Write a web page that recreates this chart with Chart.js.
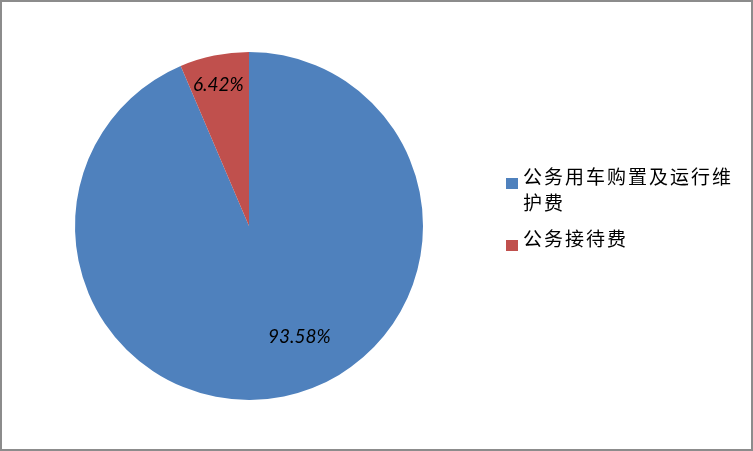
<!DOCTYPE html>
<html>
<head>
<meta charset="utf-8">
<script src="https://cdn.jsdelivr.net/npm/chart.js@4"></script>
<style>
  body { margin: 0; background: #fff; }
  #wrap {
    width: 753px;
    height: 451px;
    box-sizing: border-box;
    border: 2px solid #8c8c8c;
    background: #fff;
  }
</style>
</head>
<body>
<div id="wrap"><canvas id="pie-chart" width="749" height="447"></canvas></div>
<script>
// chart data
const categories = ["公务用车购置及运行维护费", "公务接待费"];
const shares = [93.58, 6.42];
const shareLabels = ["93.58%", "6.42%"];
const sliceColors = ["#4F81BD", "#C0504D"];

// percent labels inside the slices
const sliceLabels = {
  id: "sliceLabels",
  afterDatasetsDraw(chart, args, opts) {
    const ctx = chart.ctx;
    const arcs = chart.getDatasetMeta(0).data;
    ctx.save();
    ctx.font = "italic 19px Lato";
    ctx.fillStyle = "#000";
    ctx.textAlign = "center";
    ctx.textBaseline = "middle";
    arcs.forEach((arc, i) => {
      const p = arc.getProps(["x", "y", "startAngle", "endAngle", "outerRadius"], true);
      const a = p.startAngle + (p.endAngle - p.startAngle) * opts.along[i];
      const r = p.outerRadius * opts.radius[i];
      ctx.fillText(shareLabels[i], p.x + Math.cos(a) * r, p.y + Math.sin(a) * r);
    });
    ctx.restore();
  },
};

// legend on the right, wraps long names
const sideLegend = {
  id: "sideLegend",
  afterDraw(chart, args, opts) {
    const ctx = chart.ctx;
    ctx.save();
    ctx.font = "19px 'Noto Sans CJK SC'";
    ctx.letterSpacing = "2px";
    ctx.textBaseline = "middle";
    ctx.fillStyle = "#000";
    const maxW = chart.width - opts.textX - 8;
    let y = opts.top;
    categories.forEach((name, i) => {
      // break into lines by characters
      const lines = [];
      let cur = "";
      for (const ch of name) {
        if (ctx.measureText(cur + ch).width > maxW && cur) {
          lines.push(cur);
          cur = ch;
        } else {
          cur += ch;
        }
      }
      lines.push(cur);

      ctx.fillStyle = sliceColors[i];
      ctx.fillRect(opts.boxX, y + 1, 12, 11);
      ctx.fillStyle = "#000";
      lines.forEach((ln, j) => {
        ctx.fillText(ln, opts.textX, y + j * opts.lineH);
      });
      y += lines.length * opts.lineH + opts.gap;
    });
    ctx.restore();
  },
};

new Chart(document.getElementById("pie-chart"), {
  type: "pie",
  data: {
    labels: categories,
    datasets: [
      {
        data: shares,
        backgroundColor: sliceColors,
        borderWidth: 0,
      },
    ],
  },
  options: {
    responsive: false,
    animation: false,
    events: [],
    layout: {
      padding: { left: 73, top: 50, right: 328, bottom: 49 },
    },
    plugins: {
      legend: { display: false },
      tooltip: { enabled: false },
      sliceLabels: { along: [0.462, 0.47], radius: [0.7, 0.83] },
      sideLegend: { boxX: 504, textX: 521, top: 175, lineH: 26, gap: 10 },
    },
  },
  plugins: [sliceLabels, sideLegend],
});
</script>
</body>
</html>
